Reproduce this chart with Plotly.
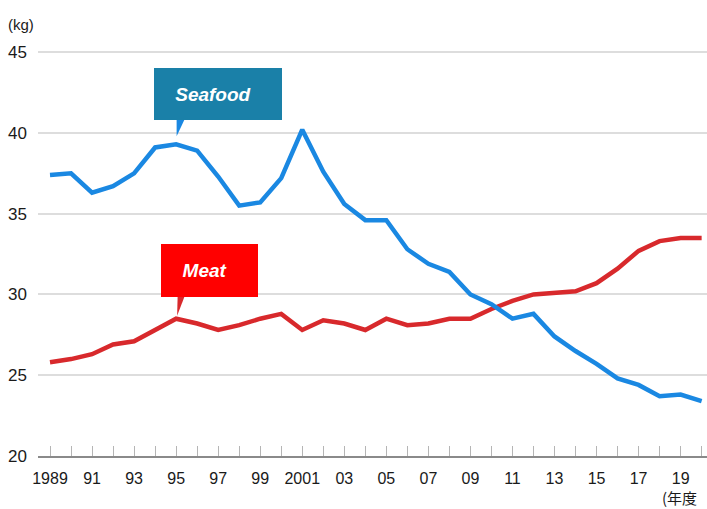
import plotly.graph_objects as go

years = list(range(1989, 2021))
seafood = [37.4, 37.5, 36.3, 36.7, 37.5, 39.1, 39.3, 38.9, 37.3, 35.5,
           35.7, 37.2, 40.2, 37.6, 35.6, 34.6, 34.6, 32.8, 31.9, 31.4,
           30.0, 29.4, 28.5, 28.8, 27.4, 26.5, 25.7, 24.8, 24.4, 23.7,
           23.8, 23.4]
meat = [25.8, 26.0, 26.3, 26.9, 27.1, 27.8, 28.5, 28.2, 27.8, 28.1,
        28.5, 28.8, 27.8, 28.4, 28.2, 27.8, 28.5, 28.1, 28.2, 28.5,
        28.5, 29.1, 29.6, 30.0, 30.1, 30.2, 30.7, 31.6, 32.7, 33.3,
        33.5, 33.5]
tick_years = years
tick_text = ["1989" if y == 1989 else ("" if y % 2 == 0 else ("2001" if y == 2001 else f"{y % 100:02d}")) for y in years]
y_ticks = [20, 25, 30, 35, 40, 45]

blue = "#1a88e2"
red = "#d8292c"
font = "Liberation Sans, Arial, sans-serif"

fig = go.Figure()
fig.add_trace(go.Scatter(x=years, y=meat, mode="lines", line=dict(color=red, width=4.5),
                         hoverinfo="skip", showlegend=False))
fig.add_trace(go.Scatter(x=years, y=seafood, mode="lines", line=dict(color=blue, width=4.5),
                         hoverinfo="skip", showlegend=False))

L, R, T, B = 38, 0, 36, 53
W, H = 707, 509

fig.update_layout(
    width=W, height=H,
    margin=dict(l=L, r=R, t=T, b=B, autoexpand=False),
    paper_bgcolor="white", plot_bgcolor="white",
    font=dict(family=font, color="#222"),
    xaxis=dict(range=[1988.429, 2020.255], showgrid=False, zeroline=False, automargin=False,
               showline=True, linecolor="#8a8a8a", linewidth=2,
               ticks="inside", ticklen=10, tickcolor="#b5b5b5", tickwidth=1,
               tickmode="array", tickvals=tick_years, ticktext=tick_text,
               tickfont=dict(size=16, color="#1a1a1a"), ticklabelstandoff=7),
    yaxis=dict(range=[20, 46], showgrid=True, gridcolor="#dddddd", gridwidth=1.5,
               zeroline=False, showline=False, tickmode="array", tickvals=y_ticks,
               automargin=False,
               tickfont=dict(size=17, color="#1a1a1a"), ticklabelstandoff=10),
)

pw = W - L - R
ph = H - T - B
def px_x(p):
    return (p - L) / pw
def px_y(p):
    return (H - B - p) / ph

# callout boxes
i95 = years.index(1995)
fig.add_annotation(x=1995, y=seafood[i95], xref="x", yref="y", showarrow=False,
                   text="<b><i>Seafood&nbsp;&nbsp;</i></b>", font=dict(size=19, color="white", family=font),
                   bgcolor="#1a80a8", bordercolor="#1a80a8", borderwidth=0, borderpad=0,
                   width=128, height=52, xshift=42, yshift=50, align="center", valign="middle")
fig.add_annotation(x=1995, y=meat[i95], xref="x", yref="y", showarrow=False,
                   text="<b><i>Meat&nbsp;&nbsp;</i></b>", font=dict(size=19, color="white", family=font),
                   bgcolor="#ff0000", bordercolor="#ff0000", borderwidth=0, borderpad=0,
                   width=97, height=53, xshift=33, yshift=48, align="center", valign="middle")

# pointers
fig.add_shape(type="path", xref="x", yref="y", xsizemode="pixel", ysizemode="pixel",
              xanchor=1995, yanchor=seafood[i95], path="M 0.5 8 L 0.5 25 L 8.5 25 Z",
              fillcolor=blue, line=dict(width=0))
fig.add_shape(type="path", xref="x", yref="y", xsizemode="pixel", ysizemode="pixel",
              xanchor=1995, yanchor=meat[i95], path="M 1 3 L 1.5 22.5 L 8.5 22.5 Z",
              fillcolor=red, line=dict(width=0))

fig.add_annotation(x=px_x(6), y=px_y(24), xref="paper", yref="paper", showarrow=False,
                   text="(kg)", xanchor="left", yanchor="middle",
                   font=dict(size=15, color="#1a1a1a", family=font))
fig.add_annotation(x=px_x(661), y=px_y(509), xref="paper", yref="paper", showarrow=False,
                   text="(年度", xanchor="left", yanchor="bottom", borderpad=0,
                   font=dict(size=15, color="#1a1a1a", family="Noto Sans CJK JP, sans-serif"))

fig.write_html("out.html", config={"displayModeBar": False},
               post_script="document.body.style.margin='0';document.body.style.overflow='hidden';")
